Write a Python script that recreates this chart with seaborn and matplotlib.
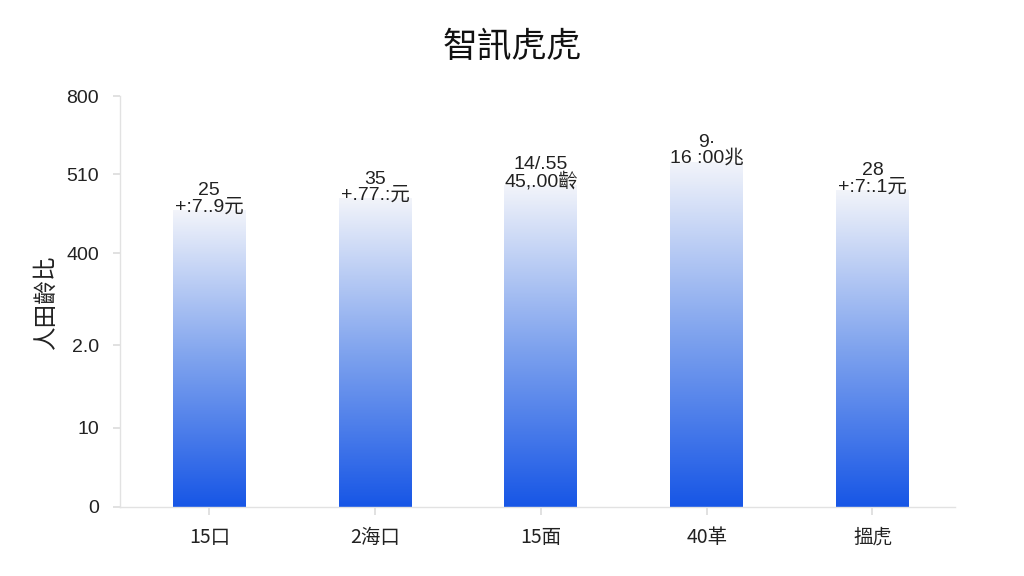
import numpy as np
import pandas as pd
import matplotlib
matplotlib.use("Agg")
import matplotlib.pyplot as plt
from matplotlib.colors import LinearSegmentedColormap
import seaborn as sns

# data
categories = ["15口", "2海口", "15面", "40革", "搵虎"]
values = [578, 601, 627, 672, 617]
bar_labels = ["25\n+:7..9元", "35\n+.77.:元", "14/.55\n45,.00齡", "9·\n16 :00兆", "28\n+:7:.1元"]
ytick_pos = [0, 154, 315, 494, 648, 800]
ytick_text = ["0", "10", "2.0", "400", "510", "800"]

sns.set_theme(style="white")
plt.rcParams['font.family'] = ['Liberation Sans', 'Noto Sans CJK TC', 'DejaVu Sans']

df = pd.DataFrame({"cat": categories, "val": values})

fig = plt.figure(figsize=(10.24, 5.76), dpi=100)
ax = fig.add_axes([0.117, 0.12, 0.816, 0.713])

sns.barplot(data=df, x="cat", y="val", ax=ax, width=0.44, color="#2563eb")

# vertical blue-to-white gradient inside each bar
cmap = LinearSegmentedColormap.from_list("fade", ["#1756e6", "#7fa3ee", "#f2f4fa"])
grad = np.linspace(0, 1, 256).reshape(-1, 1)
for bar in ax.patches:
    x0, y0 = bar.get_x(), bar.get_y()
    w, h = bar.get_width(), bar.get_height()
    im = ax.imshow(grad, cmap=cmap, aspect="auto", origin="lower",
                   extent=[x0, x0 + w, y0, y0 + h], zorder=2)
    im.set_clip_path(bar)
    bar.set_facecolor("none")
    bar.set_edgecolor("none")

for i, (v, t) in enumerate(zip(values, bar_labels)):
    ax.text(i, v - 10, t, ha="center", va="bottom", fontsize=14,
            linespacing=0.9, color="#222222", zorder=3)

ax.set_xlim(-0.54, 4.5)
ax.set_ylim(0, 800)
ax.set_yticks(ytick_pos)
ax.set_yticklabels(ytick_text, fontsize=14, color="#222222")
ax.set_xticks(range(len(categories)))
ax.set_xticklabels(categories, va="baseline", fontsize=14, color="#222222",
                   fontfamily=['Noto Sans CJK TC'])
ax.tick_params(axis="x", length=6, color="#dddddd", pad=20, bottom=True)
ax.tick_params(axis="y", length=5, color="#dddddd", left=True, pad=10)
ax.set_xlabel("")
ax.set_ylabel("人田齡比", fontsize=17, color="#222222", labelpad=6)

for s in ["top", "right"]:
    ax.spines[s].set_visible(False)
for s in ["left", "bottom"]:
    ax.spines[s].set_color("#e2e2e2")
    ax.spines[s].set_linewidth(1)

fig.suptitle("智訊虎虎", fontsize=25, y=0.918, va="center", color="#111111")

fig.savefig("out.png", dpi=100)
